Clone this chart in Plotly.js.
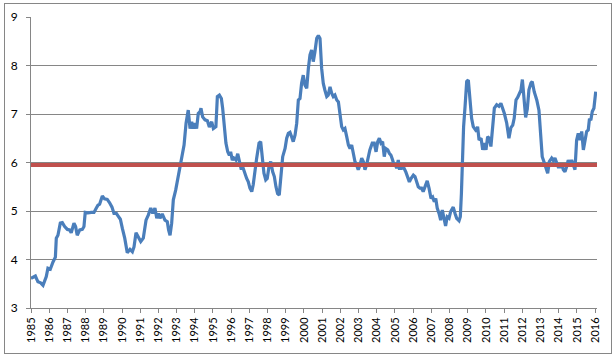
<!DOCTYPE html>
<html>
<head>
<meta charset="utf-8">
<script src="https://cdn.plot.ly/plotly-3.0.1.min.js"></script>
<style>
  html, body { margin: 0; padding: 0; background: #ffffff; }
  #frame { position: absolute; left: 4px; top: 3px; width: 606px; height: 349px; border: 1px solid #868686; }
  #chart { position: absolute; left: 0; top: 0; width: 615px; height: 357px; }
</style>
</head>
<body>
<div id="frame"></div>
<div id="chart"></div>
<script>
// Decimal years (x) and values (y)
const years = [
  1985.00,1985.24,1985.38,1985.53,1985.66,1985.84,1985.93,1986.06,1986.21,1986.34,
  1986.39,1986.48,1986.61,1986.72,1986.85,1987.00,1987.12,1987.21,1987.36,1987.45,
  1987.54,1987.68,1987.82,1987.91,1987.98,1988.13,1988.31,1988.46,1988.59,1988.68,
  1988.77,1988.92,1989.04,1989.19,1989.32,1989.45,1989.56,1989.69,1989.78,1989.91,
  1990.02,1990.15,1990.29,1990.44,1990.57,1990.66,1990.77,1990.90,1991.03,1991.17,
  1991.32,1991.45,1991.58,1991.69,1991.81,1991.91,1992.00,1992.09,1992.21,1992.36,
  1992.49,1992.56,1992.64,1992.73,1992.82,1992.95,1993.09,1993.23,1993.30,1993.41,
  1993.52,1993.64,1993.74,1993.83,1993.92,1994.01,1994.10,1994.19,1994.29,1994.34,
  1994.43,1994.56,1994.69,1994.80,1994.93,1995.02,1995.16,1995.24,1995.35,1995.46,
  1995.53,1995.62,1995.71,1995.81,1995.90,1995.97,1996.06,1996.15,1996.26,1996.36,
  1996.45,1996.54,1996.66,1996.76,1996.85,1996.94,1997.03,1997.13,1997.21,1997.40,
  1997.53,1997.62,1997.71,1997.80,1997.90,1997.98,1998.09,1998.17,1998.28,1998.37,
  1998.46,1998.55,1998.64,1998.74,1998.83,1998.96,1999.05,1999.14,1999.23,1999.32,
  1999.41,1999.51,1999.60,1999.69,1999.78,1999.87,1999.96,2000.05,2000.15,2000.24,
  2000.33,2000.42,2000.51,2000.60,2000.70,2000.79,2000.88,2000.97,2001.06,2001.15,
  2001.25,2001.33,2001.43,2001.52,2001.61,2001.70,2001.80,2001.89,2001.98,2002.07,
  2002.16,2002.25,2002.35,2002.44,2002.53,2002.62,2002.71,2002.80,2002.89,2002.98,
  2003.08,2003.17,2003.26,2003.35,2003.44,2003.53,2003.62,2003.75,2003.86,2003.96,
  2004.05,2004.14,2004.23,2004.32,2004.41,2004.49,2004.60,2004.69,2004.78,2004.87,
  2004.96,2005.00,2005.09,2005.18,2005.24,2005.37,2005.46,2005.59,2005.70,2005.79,
  2005.88,2006.01,2006.10,2006.19,2006.28,2006.37,2006.46,2006.55,2006.65,2006.77,
  2006.87,2006.98,2007.07,2007.16,2007.24,2007.32,2007.42,2007.51,2007.60,2007.69,
  2007.78,2007.87,2007.97,2008.06,2008.20,2008.30,2008.39,2008.52,2008.59,2008.65,
  2008.70,2008.77,2008.85,2008.94,2009.03,2009.12,2009.21,2009.30,2009.40,2009.49,
  2009.54,2009.62,2009.73,2009.82,2009.91,2010.00,2010.09,2010.18,2010.27,2010.37,
  2010.46,2010.59,2010.71,2010.82,2010.92,2011.01,2011.14,2011.26,2011.37,2011.47,
  2011.55,2011.65,2011.74,2011.83,2011.92,2012.00,2012.09,2012.18,2012.27,2012.36,
  2012.47,2012.54,2012.65,2012.79,2012.91,2013.00,2013.09,2013.20,2013.30,2013.39,
  2013.48,2013.55,2013.61,2013.70,2013.79,2013.88,2013.97,2014.07,2014.16,2014.25,
  2014.34,2014.43,2014.52,2014.62,2014.71,2014.80,2014.89,2014.98,2015.07,2015.16,
  2015.26,2015.35,2015.44,2015.53,2015.62,2015.68,2015.77,2015.84,2015.93,2016.03
];
const values = [
  3.61,3.66,3.54,3.52,3.47,3.65,3.82,3.80,3.95,4.05,
  4.44,4.50,4.75,4.76,4.68,4.62,4.61,4.55,4.75,4.68,
  4.50,4.61,4.62,4.68,4.97,4.96,4.97,4.97,5.06,5.12,
  5.14,5.31,5.25,5.24,5.17,5.08,4.95,4.95,4.90,4.83,
  4.64,4.44,4.14,4.21,4.16,4.26,4.55,4.44,4.37,4.44,
  4.81,4.92,5.06,4.95,5.06,4.85,4.95,4.85,4.94,4.81,
  4.78,4.61,4.50,4.75,5.23,5.43,5.71,6.00,6.05,6.36,
  6.81,7.08,6.70,6.84,6.70,6.81,6.70,7.01,7.05,7.12,
  6.94,6.88,6.86,6.73,6.84,6.70,6.74,7.36,7.39,7.32,
  7.12,6.67,6.40,6.22,6.15,6.22,6.05,6.09,6.05,6.18,
  6.02,5.88,5.88,5.74,5.67,5.60,5.47,5.40,5.54,6.09,
  6.40,6.43,6.05,5.78,5.64,5.67,5.95,6.02,5.81,5.71,
  5.50,5.36,5.33,5.78,6.12,6.29,6.50,6.60,6.62,6.53,
  6.43,6.57,6.81,7.29,7.32,7.64,7.80,7.60,7.53,7.94,
  8.22,8.32,8.08,8.28,8.56,8.62,8.56,7.94,7.63,7.49,
  7.36,7.39,7.56,7.43,7.36,7.39,7.29,7.25,6.94,6.74,
  6.67,6.70,6.53,6.36,6.29,6.36,6.19,6.02,5.95,5.85,
  5.95,6.09,6.02,5.85,5.95,6.15,6.26,6.40,6.40,6.22,
  6.43,6.50,6.40,6.43,6.12,6.29,6.26,6.19,6.15,6.05,
  5.93,5.98,5.88,6.05,5.88,5.88,5.91,5.81,5.71,5.60,
  5.67,5.74,5.71,5.57,5.50,5.47,5.47,5.40,5.50,5.62,
  5.47,5.26,5.29,5.19,5.26,5.06,4.95,4.81,5.02,4.81,
  4.69,4.88,4.85,4.99,5.08,4.95,4.85,4.80,4.88,5.36,
  5.98,6.74,7.15,7.67,7.70,7.36,6.91,6.74,6.67,6.64,
  6.74,6.46,6.50,6.26,6.40,6.26,6.53,6.50,6.33,6.77,
  7.12,7.19,7.16,7.22,7.12,7.01,6.81,6.50,6.72,6.77,
  6.91,7.29,7.34,7.42,7.49,7.71,7.36,6.93,7.10,7.50,
  7.64,7.67,7.46,7.29,7.08,6.65,6.12,6.00,5.88,5.78,
  6.02,6.07,6.09,6.04,6.09,6.00,5.91,5.91,5.98,5.85,
  5.81,5.91,6.05,5.95,6.05,5.95,5.85,6.46,6.60,6.46,
  6.64,6.26,6.46,6.64,6.67,6.88,6.89,7.05,7.12,7.46
];
const averageValue = 5.95;
const yearTicks = [];
for (let y = 1985; y <= 2016; y++) yearTicks.push(y);
const tickText = yearTicks.map(String);

const data = [
  {
    x: years, y: values, type: 'scatter', mode: 'lines',
    line: { color: '#4A7EBB', width: 3.2, shape: 'linear' },
    hoverinfo: 'skip'
  },
  {
    x: [1985, 2016.1], y: [averageValue, averageValue], type: 'scatter', mode: 'lines',
    line: { color: '#C0504D', width: 4 },
    hoverinfo: 'skip'
  }
];

const layout = {
  width: 615, height: 357,
  margin: { l: 31, r: 18, t: 17, b: 49 },
  paper_bgcolor: 'rgba(0,0,0,0)',
  plot_bgcolor: '#ffffff',
  showlegend: false,
  font: { family: 'Lato, "Open Sans", sans-serif', size: 11, color: '#000000' },
  xaxis: {
    range: [1985, 2016.1],
    tickmode: 'array', tickvals: yearTicks, ticktext: tickText,
    tickangle: -90,
    ticks: 'outside', ticklen: 4, tickcolor: '#868686', tickwidth: 1,
    showline: true, linecolor: '#868686', linewidth: 1,
    showgrid: false, zeroline: false,
    tickfont: { family: 'Lato, "Open Sans", sans-serif', size: 11, color: '#000000' }
  },
  yaxis: {
    range: [3, 9],
    tickmode: 'array', tickvals: [3,4,5,6,7,8,9],
    ticks: 'outside', ticklen: 4, tickcolor: '#868686', tickwidth: 1,
    ticklabelstandoff: 6,
    showline: true, linecolor: '#868686', linewidth: 1,
    showgrid: true, gridcolor: '#868686', gridwidth: 1,
    zeroline: false,
    tickfont: { family: 'Lato, "Open Sans", sans-serif', size: 12, color: '#000000' }
  }
};

Plotly.newPlot('chart', data, layout, { displayModeBar: false, staticPlot: true });
</script>
</body>
</html>
